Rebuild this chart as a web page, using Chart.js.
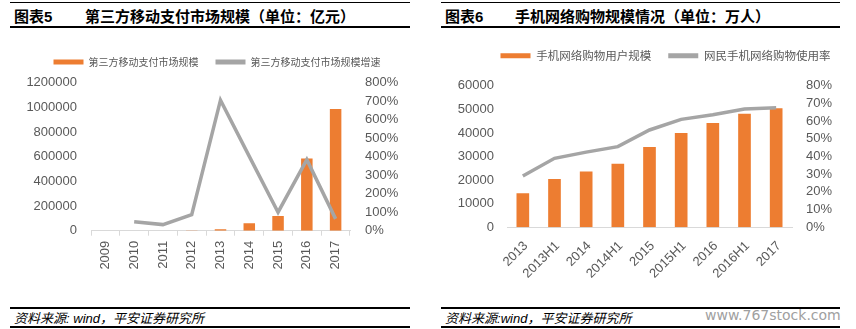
<!DOCTYPE html>
<html>
<head>
<meta charset="utf-8">
<script src="https://cdn.jsdelivr.net/npm/chart.js@4.4.1/dist/chart.umd.min.js"></script>
<style>
  body { margin: 0; width: 856px; height: 329px; background: #fff; position: relative; overflow: hidden;
         font-family: "Noto Sans CJK SC", sans-serif; }
  .rule { position: absolute; background: #000; }
  .ttl { position: absolute; top: 6px; font-size: 15px; font-weight: bold; line-height: 20px; white-space: nowrap; color: #000; }
  .num { font-family: "Liberation Sans", Arial, sans-serif; }
  .src { position: absolute; top: 309px; font-size: 13px; font-style: italic; line-height: 18px; white-space: nowrap; }
  .src .en { font-family: "Liberation Sans", Arial, sans-serif; }
  .wm { position: absolute; left: 705px; top: 305px; font-family: "DejaVu Sans", sans-serif; font-size: 14px; color: #a0a0a0; line-height: 20px; }
  canvas { position: absolute; }
</style>
</head>
<body>
<div class="rule" style="left:10px;top:2px;width:400px;height:1px"></div>
<div class="rule" style="left:10px;top:26px;width:400px;height:2px"></div>
<div class="ttl" style="left:14px">图表<span class="num">5</span></div>
<div class="ttl" style="left:85px">第三方移动支付市场规模（单位：亿元）</div>

<div class="rule" style="left:441px;top:2px;width:399px;height:1px"></div>
<div class="rule" style="left:441px;top:26px;width:399px;height:2px"></div>
<div class="ttl" style="left:445px">图表<span class="num">6</span></div>
<div class="ttl" style="left:515px">手机网络购物规模情况（单位：万人）</div>

<canvas id="c1" width="428" height="260" style="left:0;top:40px"></canvas>
<canvas id="c2" width="475" height="267" style="left:428px;top:33px"></canvas>

<div class="rule" style="left:10px;top:307px;width:400px;height:2px"></div>
<div class="rule" style="left:10px;top:326px;width:400px;height:2px"></div>
<div class="src" style="left:14px">资料来源<span class="en">: wind</span>，平安证券研究所</div>

<div class="rule" style="left:441px;top:307px;width:399px;height:2px"></div>
<div class="rule" style="left:441px;top:326px;width:399px;height:2px"></div>
<div class="src" style="left:445px">资料来源<span class="en">:wind</span>，平安证券研究所</div>
<div class="wm">www.767stock.com</div>

<script>
// chart 5 data
const years = ['2009', '2010', '2011', '2012', '2013', '2014', '2015', '2016', '2017'];
const payScale = [170, 200, 481, 1511, 12197, 59924, 120000, 585000, 987000];
const payGrowth = [null, 49, 33, 87, 706, 402, 100, 384, 64];

// chart 6 data
const periods = ['2013', '2013H1', '2014', '2014H1', '2015', '2015H1', '2016', '2016H1', '2017'];
const mobileUsers = [14400, 20500, 23600, 26900, 34000, 40000, 44200, 48100, 50500];
const mobileRate = [29, 39, 42.5, 45.6, 55, 61, 63.6, 66.8, 67.5];

const ORANGE = '#ED7D31';
const GREY = '#A5A5A5';
const TXT = '#595959';

Chart.defaults.font.family = '"Liberation Sans", Arial, "Noto Sans CJK SC", sans-serif';
Chart.defaults.color = TXT;

// keep legend in dataset order, flat boxes without outline
function legendItems(chart) {
  const items = Chart.defaults.plugins.legend.labels.generateLabels(chart);
  items.sort((a, b) => a.datasetIndex - b.datasetIndex);
  items.forEach(it => { it.lineWidth = 0; it.fillStyle = it.strokeStyle; });
  return items;
}

// empty title used as a gap between legend and plot
function spacer(h) {
  return { display: true, text: '', padding: 0, weight: 500, font: { size: h, lineHeight: 1 } };
}

new Chart(document.getElementById('c1'), {
  type: 'bar',
  data: {
    labels: years,
    datasets: [
      { label: '第三方移动支付市场规模', data: payScale, backgroundColor: ORANGE, borderColor: ORANGE,
        barPercentage: 0.5, yAxisID: 'y', order: 1 },
      { type: 'line', label: '第三方移动支付市场规模增速', data: payGrowth, borderColor: GREY, backgroundColor: GREY,
        borderWidth: 3.5, pointRadius: 0, tension: 0, yAxisID: 'y1', order: 0 }
    ]
  },
  options: {
    responsive: false,
    animation: false,
    layout: { padding: { left: 6, right: 0, top: 0, bottom: 0 } },
    plugins: {
      legend: {
        labels: { boxWidth: 30, boxHeight: 5, padding: 17, color: TXT,
                  font: { size: 10, family: '"Noto Sans CJK SC", sans-serif' }, generateLabels: legendItems }
      },
      title: spacer(5.7),
      tooltip: { enabled: false }
    },
    scales: {
      x: {
        grid: { display: true, drawOnChartArea: false, drawTicks: true, tickLength: 5, color: '#d9d9d9' },
        border: { color: '#d9d9d9' },
        ticks: { minRotation: 90, maxRotation: 90, padding: 5, autoSkip: false, font: { size: 13 } },
        afterFit(s) { s.height = 69.3; }
      },
      y: {
        position: 'left', min: 0, max: 1200000,
        grid: { display: false, drawTicks: false }, border: { display: false },
        ticks: { stepSize: 200000, autoSkip: false, padding: 14, font: { size: 13 }, callback: v => String(v) },
        afterFit(s) { s.width = 85; }
      },
      y1: {
        position: 'right', min: 0, max: 800,
        grid: { display: false, drawTicks: false }, border: { display: false },
        ticks: { stepSize: 100, autoSkip: false, padding: 15, font: { size: 13 }, callback: v => v + '%' },
        afterFit(s) { s.width = 78; }
      }
    }
  }
});

new Chart(document.getElementById('c2'), {
  type: 'bar',
  data: {
    labels: periods,
    datasets: [
      { label: '手机网络购物用户规模', data: mobileUsers, backgroundColor: ORANGE, borderColor: ORANGE,
        barPercentage: 0.5, yAxisID: 'y', order: 1 },
      { type: 'line', label: '网民手机网络购物使用率', data: mobileRate, borderColor: GREY, backgroundColor: GREY,
        borderWidth: 3.5, pointRadius: 0, tension: 0, yAxisID: 'y1', order: 0 }
    ]
  },
  options: {
    responsive: false,
    animation: false,
    layout: { padding: 0 },
    plugins: {
      legend: {
        labels: { boxWidth: 30, boxHeight: 5, padding: 17, color: TXT,
                  font: { size: 11.5, family: '"Noto Sans CJK SC", sans-serif' }, generateLabels: legendItems }
      },
      title: spacer(14.25),
      tooltip: { enabled: false }
    },
    scales: {
      x: {
        grid: { display: false, drawTicks: false },
        border: { color: '#d9d9d9' },
        ticks: { minRotation: 45, maxRotation: 45, padding: 11, labelOffset: 3, autoSkip: false, font: { size: 13 } },
        afterFit(s) { s.height = 72.7; }
      },
      y: {
        position: 'left', min: 0, max: 60000,
        grid: { display: false, drawTicks: false }, border: { display: false },
        ticks: { stepSize: 10000, autoSkip: false, padding: 13, font: { size: 13 }, callback: v => String(v) },
        afterFit(s) { s.width = 79; }
      },
      y1: {
        position: 'right', min: 0, max: 80,
        grid: { display: false, drawTicks: false }, border: { display: false },
        ticks: { stepSize: 10, autoSkip: false, padding: 14, font: { size: 13 }, callback: v => v + '%' },
        afterFit(s) { s.width = 111; }
      }
    }
  }
});
</script>
</body>
</html>
